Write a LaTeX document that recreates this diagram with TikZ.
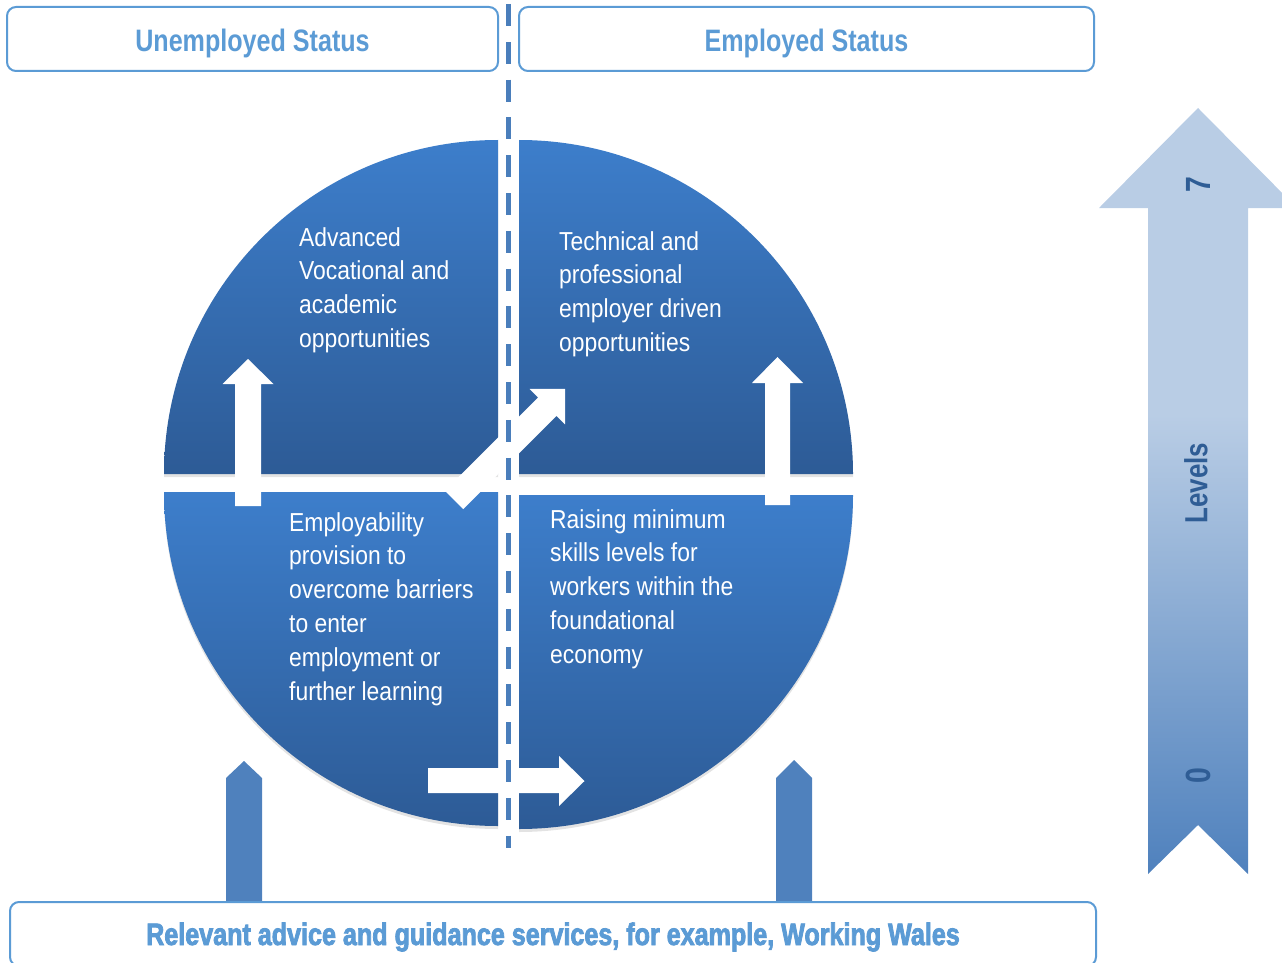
\documentclass[tikz,border=0pt]{standalone}
\usepackage{fontspec}
\usetikzlibrary{shadows}
\newfontfamily\condf[FakeStretch=0.88]{Liberation Sans}
\newfontfamily\condb[FakeStretch=0.81]{Liberation Sans Bold}
\newfontfamily\heavyb[FakeStretch=0.81,FakeBold=2.5]{Liberation Sans Bold}
\definecolor{hdr}{HTML}{5B9BD5}
\definecolor{dashc}{HTML}{4A7EBB}
\definecolor{qtop}{HTML}{3D7ECB}
\definecolor{qbot}{HTML}{2D5B96}
\definecolor{barr}{HTML}{4F81BD}
\definecolor{lvlight}{HTML}{B9CDE5}
\definecolor{lvdark}{HTML}{4F81BD}
\definecolor{lvtext}{HTML}{2F5D95}
\pgfdeclareverticalshading{lvshade}{100bp}{color(0bp)=(lvdark); color(25bp)=(lvdark); color(55bp)=(lvlight); color(75bp)=(lvlight); color(100bp)=(lvlight)}
\begin{document}
\begin{tikzpicture}[x=1pt,y=-1pt,
  hdrbox/.style={draw=hdr, line width=2pt, rounded corners=9pt, fill=white, inner sep=0pt,
    text=hdr, font=\condb\fontsize{31}{36}\selectfont, text height=25pt, text depth=0pt},
  quad/.style={top color=qtop, bottom color=qbot, draw=none,
    drop shadow={shadow xshift=0pt, shadow yshift=-3pt, opacity=0.22}},
  qtext/.style={text=white, font=\condf\fontsize{26}{33.8}\selectfont, align=left, inner sep=0pt, anchor=base west},
  warrow/.style={fill=white, draw=none},
  barrow/.style={fill=barr, draw=none},
  dashline/.style={draw=dashc, line width=5pt, dash pattern=on 22pt off 15.8pt},
  lvlabel/.style={text=lvtext, font=\condb\fontsize{32}{36}\selectfont, rotate=90, inner sep=0pt},
  lvdigit/.style={lvlabel, font=\condb\fontsize{35}{38}\selectfont}
]
\useasboundingbox (0,0) rectangle (1282,963);

% quadrants
\path[quad] (498,474) -- (164,474) arc[start angle=180, end angle=270, radius=334] -- cycle;
\path[quad] (519,474) -- (519,140) arc[start angle=270, end angle=360, radius=334] -- cycle;
\path[quad] (498,492) -- (164,492) arc[start angle=180, end angle=90, radius=334] -- cycle;
\path[quad] (519,495) -- (853,495) arc[start angle=0, end angle=90, radius=334] -- cycle;

% quadrant texts (base anchor = baseline of last line)
\node[qtext] (tl) at (299,347.4) {Advanced\\Vocational and\\academic\\opportunities};
\node[qtext] (tr) at (559,351.4) {Technical and\\professional\\employer driven\\opportunities};
\node[qtext] (bl) at (289,700) {Employability\\provision to\\overcome barriers\\to enter\\employment or\\further learning};
\node[qtext] (br) at (550,663.2) {Raising minimum\\skills levels for\\workers within the\\foundational\\economy};

% white block arrows
\fill[warrow] (235,506) -- (235,384) -- (222.5,384) -- (248,359) -- (273.5,384) -- (261,384) -- (261,506) -- cycle;
\fill[warrow] (765,505) -- (765,383) -- (752,383) -- (777.5,357) -- (803,383) -- (790,383) -- (790,505) -- cycle;
\fill[warrow] (428,768) -- (559,768) -- (559,756) -- (584.5,781) -- (559,806) -- (559,793) -- (428,793) -- cycle;
\fill[warrow] (463.19,509.19) -- (556.53,415.85) -- (565.02,424.34) -- (565.02,388.98)
   -- (529.66,388.98) -- (538.15,397.47) -- (444.81,490.81) -- cycle;

% dashed divider
\coordinate (dtop) at (508,4);
\coordinate (dbot) at (508,848);
\draw[dashline] (dtop) -- (dbot);

% header boxes
\node[hdrbox, minimum width=491pt, minimum height=64pt] (unemp) at (252.5,39) {Unemployed Status};
\node[hdrbox, minimum width=575pt, minimum height=64pt] (emp) at (806.5,39) {Employed Status};

% bottom blue arrows
\fill[barrow] (226,904) -- (226,778) -- (244,761) -- (262,778) -- (262,904) -- cycle;
\fill[barrow] (776,904) -- (776,778) -- (794,760) -- (812,778) -- (812,904) -- cycle;

% bottom box
\node[hdrbox, minimum width=1086pt, minimum height=64pt, text height=22pt,
  font=\heavyb\fontsize{31}{36}\selectfont] (advice) at (553,934)
  {Relevant advice and guidance services, for example, Working Wales};

% levels arrow
\path[shading=lvshade] (1198,108) -- (1297,208) -- (1248,208) -- (1248,874) -- (1198,825)
   -- (1148,874) -- (1148,208) -- (1099,208) -- cycle;
\node[lvdigit] (l7) at (1198,185) {7};
\node[lvlabel] (lv) at (1196,483) {Levels};
\node[lvdigit] (l0) at (1198,776) {0};
\end{tikzpicture}
\end{document}
